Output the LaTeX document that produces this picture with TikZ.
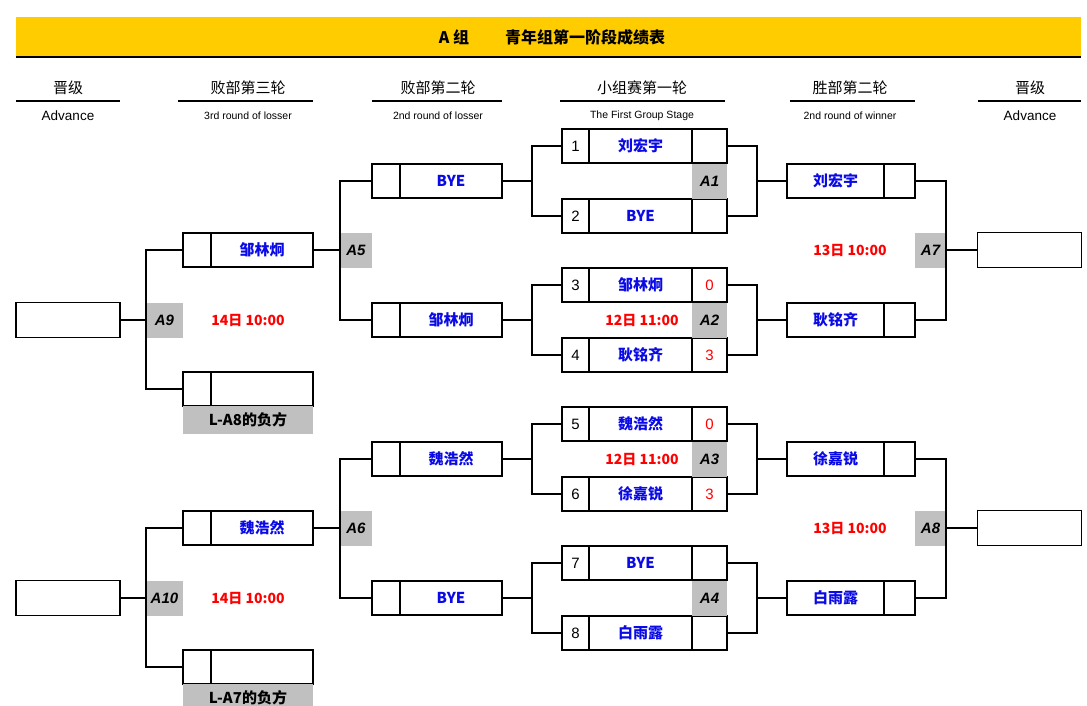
\documentclass[tikz,border=0pt]{standalone}
\usepackage{fontspec}
\setmainfont{Liberation Sans}
\newfontfamily\cjk{Noto Sans CJK SC}
\definecolor{gold}{RGB}{255,204,0}
\definecolor{nb}{RGB}{10,10,230}
\definecolor{gl}{RGB}{192,192,192}
\begin{document}
\begin{tikzpicture}[x=1pt,y=-1pt,
  cb/.style={draw,line width=1.3pt,inner sep=0pt,outer sep=0pt},
  nm/.style={text=nb,font=\cjk\bfseries\fontsize{15}{15}\selectfont},
  num/.style={font=\fontsize{15}{15}\selectfont},
  sc/.style={text=red,font=\fontsize{15}{15}\selectfont},
  lab/.style={fill=gl,inner sep=0pt,outer sep=0pt,font=\bfseries\itshape\fontsize{15}{15}\selectfont},
  tm/.style={text=red,font=\cjk\bfseries\fontsize{14}{14}\selectfont},
  br/.style={line width=2pt},
  hz/.style={font=\cjk\fontsize{15}{15}\selectfont},
  en/.style={font=\fontsize{10.5}{11}\selectfont},
  ul/.style={line width=2pt}]
\useasboundingbox (0,0) rectangle (1087,705);
% title
\node[fill=gold,minimum width=1065pt,minimum height=40pt,inner sep=0pt] (title) at (548.5,37) {};
\draw[line width=2.5pt] (title.south west) -- (title.south east);
\node[font=\cjk\bfseries\fontsize{16}{16}\selectfont] (tt) at (552,37) {A 组\hspace{36pt}青年组第一阶段成绩表};
% headers
\newcommand\hdr[6]{%
  \node[hz] (h#1) at (#2,88) {#5};
  \draw[ul] (#3,101) -- (#4,101);
  \node[en] (e#1) at (#2,116) {#6};}
\hdr{a}{68}{16}{120}{晋级}{\fontsize{13.5}{14}\selectfont Advance}
\hdr{b}{248}{178}{313}{败部第三轮}{3rd round of losser}
\hdr{c}{438}{372}{502}{败部第二轮}{2nd round of losser}
\hdr{d}{642}{560}{725}{小组赛第一轮}{The First Group Stage}
\hdr{e}{850}{790}{915}{胜部第二轮}{2nd round of winner}
\hdr{f}{1030}{978}{1081}{晋级}{\fontsize{13.5}{14}\selectfont Advance}
% macros
\newcommand\fr[5]{%
  \node[cb,num,minimum width=27pt,minimum height=34pt] (#1n) at (575.5,#3) {#2};
  \node[cb,nm,minimum width=103pt,minimum height=34pt] (#1m) at (640.5,#3) {#4};
  \node[cb,sc,minimum width=35pt,minimum height=34pt] (#1s) at (709.5,#3) {#5};}
\newcommand\lab[3]{\node[lab,minimum width=#3pt,minimum height=35pt] (#1) at #2 {\MakeUppercase{#1}};}
\newcommand\lb[4]{% loser box: id, small cx, y, name ; small w28 name w102
  \node[cb,minimum width=28pt,minimum height=34pt] (#1s) at (#2,#3) {};
  \node[cb,nm,minimum width=102pt,minimum height=34pt,anchor=west] (#1m) at (#1s.east) {#4};}
\newcommand\wb[3]{%
  \node[cb,nm,minimum width=97pt,minimum height=34pt] (#1m) at (835.5,#2) {#3};
  \node[cb,minimum width=31pt,minimum height=34pt,anchor=west] (#1s) at (#1m.east) {};}
\newcommand\adv[2]{\node[cb,minimum width=104pt,minimum height=35pt] (#1) at #2 {};}
% first round
\fr{r1}{1}{146}{刘宏宇}{}
\fr{r2}{2}{216}{BYE}{}
\fr{r3}{3}{285}{邹林炯}{0}
\fr{r4}{4}{355}{耿铭齐}{3}
\fr{r5}{5}{424}{魏浩然}{0}
\fr{r6}{6}{494}{徐嘉锐}{3}
\fr{r7}{7}{563}{BYE}{}
\fr{r8}{8}{633}{白雨露}{}
\lab{a1}{(709.5,181)}{35}
\lab{a2}{(709.5,320)}{35}
\lab{a3}{(709.5,459)}{35}
\lab{a4}{(709.5,598)}{35}
% winner round 2
\wb{w1}{181}{刘宏宇}
\wb{w2}{320}{耿铭齐}
\wb{w3}{459}{徐嘉锐}
\wb{w4}{598}{白雨露}
\lab{a7}{(930.5,250)}{31}
\lab{a8}{(930.5,528)}{31}
\adv{ar1}{(1029.5,250)}
\adv{ar2}{(1029.5,528)}
% loser round 2
\lb{l1}{386}{181}{BYE}
\lb{l2}{386}{320}{邹林炯}
\lb{l3}{386}{459}{魏浩然}
\lb{l4}{386}{598}{BYE}
\lab{a5}{(356,250)}{32}
\lab{a6}{(356,528)}{32}
% loser round 3
\lb{m1}{197}{250}{邹林炯}
\lb{m2}{197}{389}{}
\lb{m3}{197}{528}{魏浩然}
\lb{m4}{197}{667}{}
\node[lab,minimum width=130pt,minimum height=28pt,anchor=north west] (la8) at (m2s.south west) {\cjk L-A8的负方};
\node[lab,minimum width=130pt,minimum height=28pt,anchor=north west] (la7) at (m4s.south west) {\cjk L-A7的负方};
\lab{a9}{(164.5,320)}{37}
\lab{a10}{(164.5,598)}{37}
\adv{al1}{(68,320)}
\adv{al2}{(68,598)}
% times
\node[tm] (t1) at (248,320) {14日 10:00};
\node[tm] (t2) at (248,598) {14日 10:00};
\node[tm] (t3) at (642,320) {12日 11:00};
\node[tm] (t4) at (642,459) {12日 11:00};
\node[tm] (t5) at (850,250) {13日 10:00};
\node[tm] (t6) at (850,528) {13日 10:00};
% brackets first round
\foreach \u/\v/\l/\w in {r1/r2/l1/w1,r3/r4/l2/w2,r5/r6/l3/w3,r7/r8/l4/w4}{
  \draw[br] (\u n.west) -- ++(-30,0) |- (\v n.west);
  \draw[br] (\l m.east) -- ++(30,0);
  \draw[br] (\u s.east) -- ++(30,0) |- (\v s.east);
  \draw[br] (\w m.west) -- ++(-30,0);
}
\draw[br] (w1s.east) -- ++(31,0) |- (w2s.east);
\draw[br] (ar1.west) -- ++(-32,0);
\draw[br] (w3s.east) -- ++(31,0) |- (w4s.east);
\draw[br] (ar2.west) -- ++(-32,0);
\draw[br] (l1s.west) -- ++(-32,0) |- (l2s.west);
\draw[br] (m1m.east) -- ++(27,0);
\draw[br] (l3s.west) -- ++(-32,0) |- (l4s.west);
\draw[br] (m3m.east) -- ++(27,0);
\draw[br] (m1s.west) -- ++(-37,0) |- (m2s.west);
\draw[br] (al1.east) -- ++(26,0);
\draw[br] (m3s.west) -- ++(-37,0) |- (m4s.west);
\draw[br] (al2.east) -- ++(26,0);
\end{tikzpicture}
\end{document}
